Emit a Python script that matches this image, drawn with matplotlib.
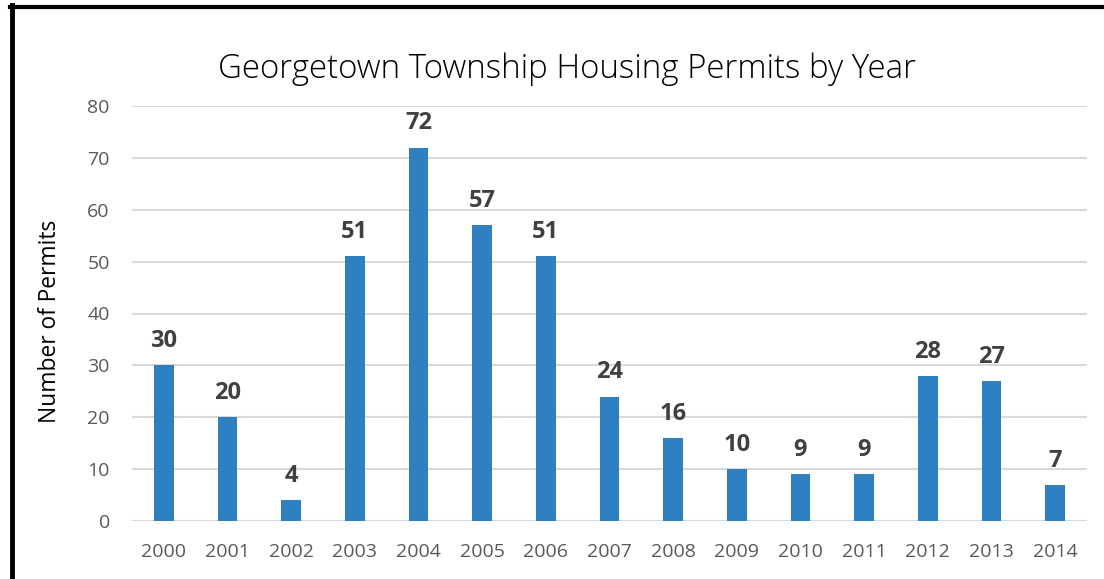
import matplotlib
matplotlib.use("Agg")
import matplotlib.pyplot as plt
from matplotlib.lines import Line2D

years = ["2000", "2001", "2002", "2003", "2004", "2005", "2006", "2007",
         "2008", "2009", "2010", "2011", "2012", "2013", "2014"]
permits = [30, 20, 4, 51, 72, 57, 51, 24, 16, 10, 9, 9, 28, 27, 7]
yticks = [0, 10, 20, 30, 40, 50, 60, 70, 80]

title = "Georgetown Township Housing Permits by Year"
ylabel = "Number of Permits"

FONT = ["Open Sans", "DejaVu Sans"]
plt.rcParams["font.family"] = FONT

fig = plt.figure(figsize=(11.04, 5.79), dpi=100)
ax = fig.add_axes([132/1104, 1-521/579, (1087-132)/1104, (521-106)/579])

x = list(range(len(years)))
ax.bar(x, permits, width=0.31, color="#2F80C0", zorder=3)
ax.set_xlim(-0.5, len(years)-0.5)
ax.set_ylim(0, 80)
ax.set_yticks(yticks)
ax.set_xticks(x)
ax.set_xticklabels(years)
ax.yaxis.grid(True, color="#D9D9D9", linewidth=1.5, zorder=0)
ax.set_axisbelow(True)
for s in ax.spines.values():
    s.set_visible(False)
ax.tick_params(axis="both", length=0, labelsize=14, colors="#595959")
ax.tick_params(axis="x", pad=16)
ax.tick_params(axis="y", pad=16)

for xi, v in zip(x, permits):
    ax.annotate(str(v), (xi, v), xytext=(0, 13), textcoords="offset points",
                ha="center", va="baseline", fontsize=17, fontweight="bold",
                color="#404040")

fig.text(567/1104, 1-78/579, title, ha="center", va="baseline",
         fontsize=23.8, fontweight="light", color="#000000")
fig.text(50/1104, 1-321/579, ylabel, ha="center", va="center",
         rotation=90, fontsize=16.4, color="#000000")

# frame border lines (left and top)
fig.add_artist(Line2D([12/1104, 12/1104], [0, 1-5/579], transform=fig.transFigure,
                      color="black", linewidth=3.5))
fig.add_artist(Line2D([10/1104, 1], [1-7/579, 1-7/579], transform=fig.transFigure,
                      color="black", linewidth=3))

fig.savefig("out.png", dpi=100)
